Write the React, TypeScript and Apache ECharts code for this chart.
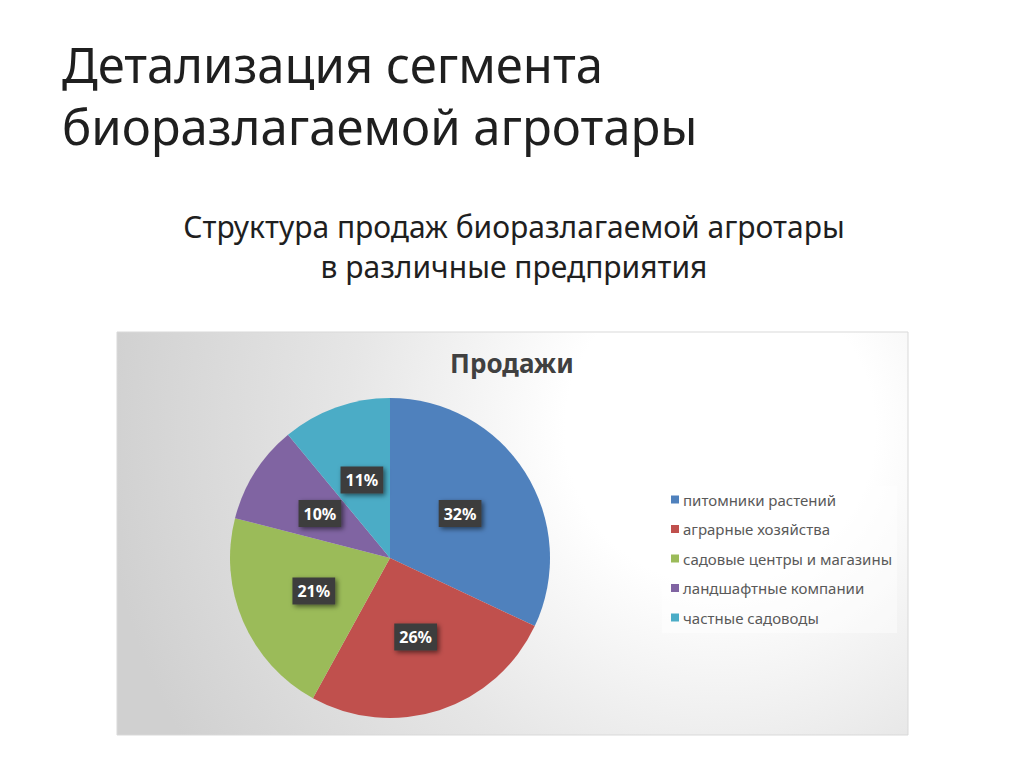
import React, { useEffect, useRef } from 'react';
import * as echarts from 'echarts';

const CATEGORIES = [
  'питомники растений',
  'аграрные хозяйства',
  'садовые центры и магазины',
  'ландшафтные компании',
  'частные садоводы',
];
const SHARES = [32, 26, 21, 10, 11];
const COLORS = ['#4F81BD', '#C0504D', '#9BBB59', '#8064A2', '#4BACC6'];

const FONT = "'Noto Sans', sans-serif";

const App = (): JSX.Element => {
  const divEl = useRef<HTMLDivElement>(null);

  useEffect(() => {
    const instance = echarts.init(divEl.current as any, null, { renderer: 'svg' });

    const option: echarts.EChartsOption = {
      animation: false,
      backgroundColor: '#ffffff',
      title: [
        {
          text: 'Детализация сегмента\nбиоразлагаемой агротары',
          left: 57,
          top: 28,
          textStyle: {
            fontFamily: FONT,
            fontSize: 49,
            lineHeight: 62,
            fontWeight: 'normal',
            color: '#1f1f1f',
          },
        },
        {
          text: 'Структура продаж биоразлагаемой агротары\nв различные предприятия',
          left: 509,
          top: 201,
          textAlign: 'center',
          textStyle: {
            fontFamily: FONT,
            fontSize: 30,
            lineHeight: 40,
            fontWeight: 'normal',
            color: '#1f1f1f',
            align: 'center',
          },
        },
        {
          text: 'Продажи',
          left: 507,
          top: 345,
          textAlign: 'center',
          textStyle: {
            fontFamily: FONT,
            fontSize: 26,
            fontWeight: 'bold',
            color: '#404040',
          },
        },
      ],
      graphic: [
        {
          type: 'rect',
          z: -10,
          silent: true,
          shape: { x: 117, y: 332, width: 791, height: 403 },
          style: {
            fill: new echarts.graphic.RadialGradient(
              720,
              430,
              620,
              [
                { offset: 0, color: '#ffffff' },
                { offset: 0.25, color: '#ffffff' },
                { offset: 0.6, color: '#e6e6e6' },
                { offset: 1, color: '#d0d0d0' },
              ],
              true
            ),
            stroke: '#d9d9d9',
            lineWidth: 1,
          },
        },
      ],
      legend: {
        orient: 'vertical',
        left: 662,
        top: 486,
        padding: [6, 5, 8, 9],
        backgroundColor: 'rgba(255,255,255,0.45)',
        itemWidth: 8,
        itemHeight: 8,
        itemGap: 14.5,
        icon: 'rect',
        data: CATEGORIES,
        textStyle: {
          fontFamily: FONT,
          fontSize: 15,
          lineHeight: 14,
          color: '#595959',
          padding: [0, 0, 0, -1],
        },
      },
      series: [
        {
          type: 'pie',
          center: [390, 558],
          radius: 160,
          startAngle: 90,
          clockwise: true,
          color: COLORS,
          data: CATEGORIES.map((name, i) => ({ name, value: SHARES[i] })),
          label: {
            position: 'inside',
            formatter: '{c}%',
            color: '#ffffff',
            fontFamily: FONT,
            fontSize: 16,
            fontWeight: 'bold',
            backgroundColor: '#3c3c3c',
            padding: [6, 5, 5, 5],
            shadowColor: 'rgba(0,0,0,0.55)',
            shadowBlur: 5,
            shadowOffsetX: 2,
            shadowOffsetY: 2,
          },
          labelLine: { show: false },
          emphasis: { disabled: true },
        },
      ],
    };

    instance.setOption(option);

    return () => {
      instance.dispose();
    };
  }, []);

  return (
    <div
      ref={divEl}
      style={{ position: 'absolute', left: 0, top: 0, width: 1024, height: 767 }}
    ></div>
  );
};

export default App;
